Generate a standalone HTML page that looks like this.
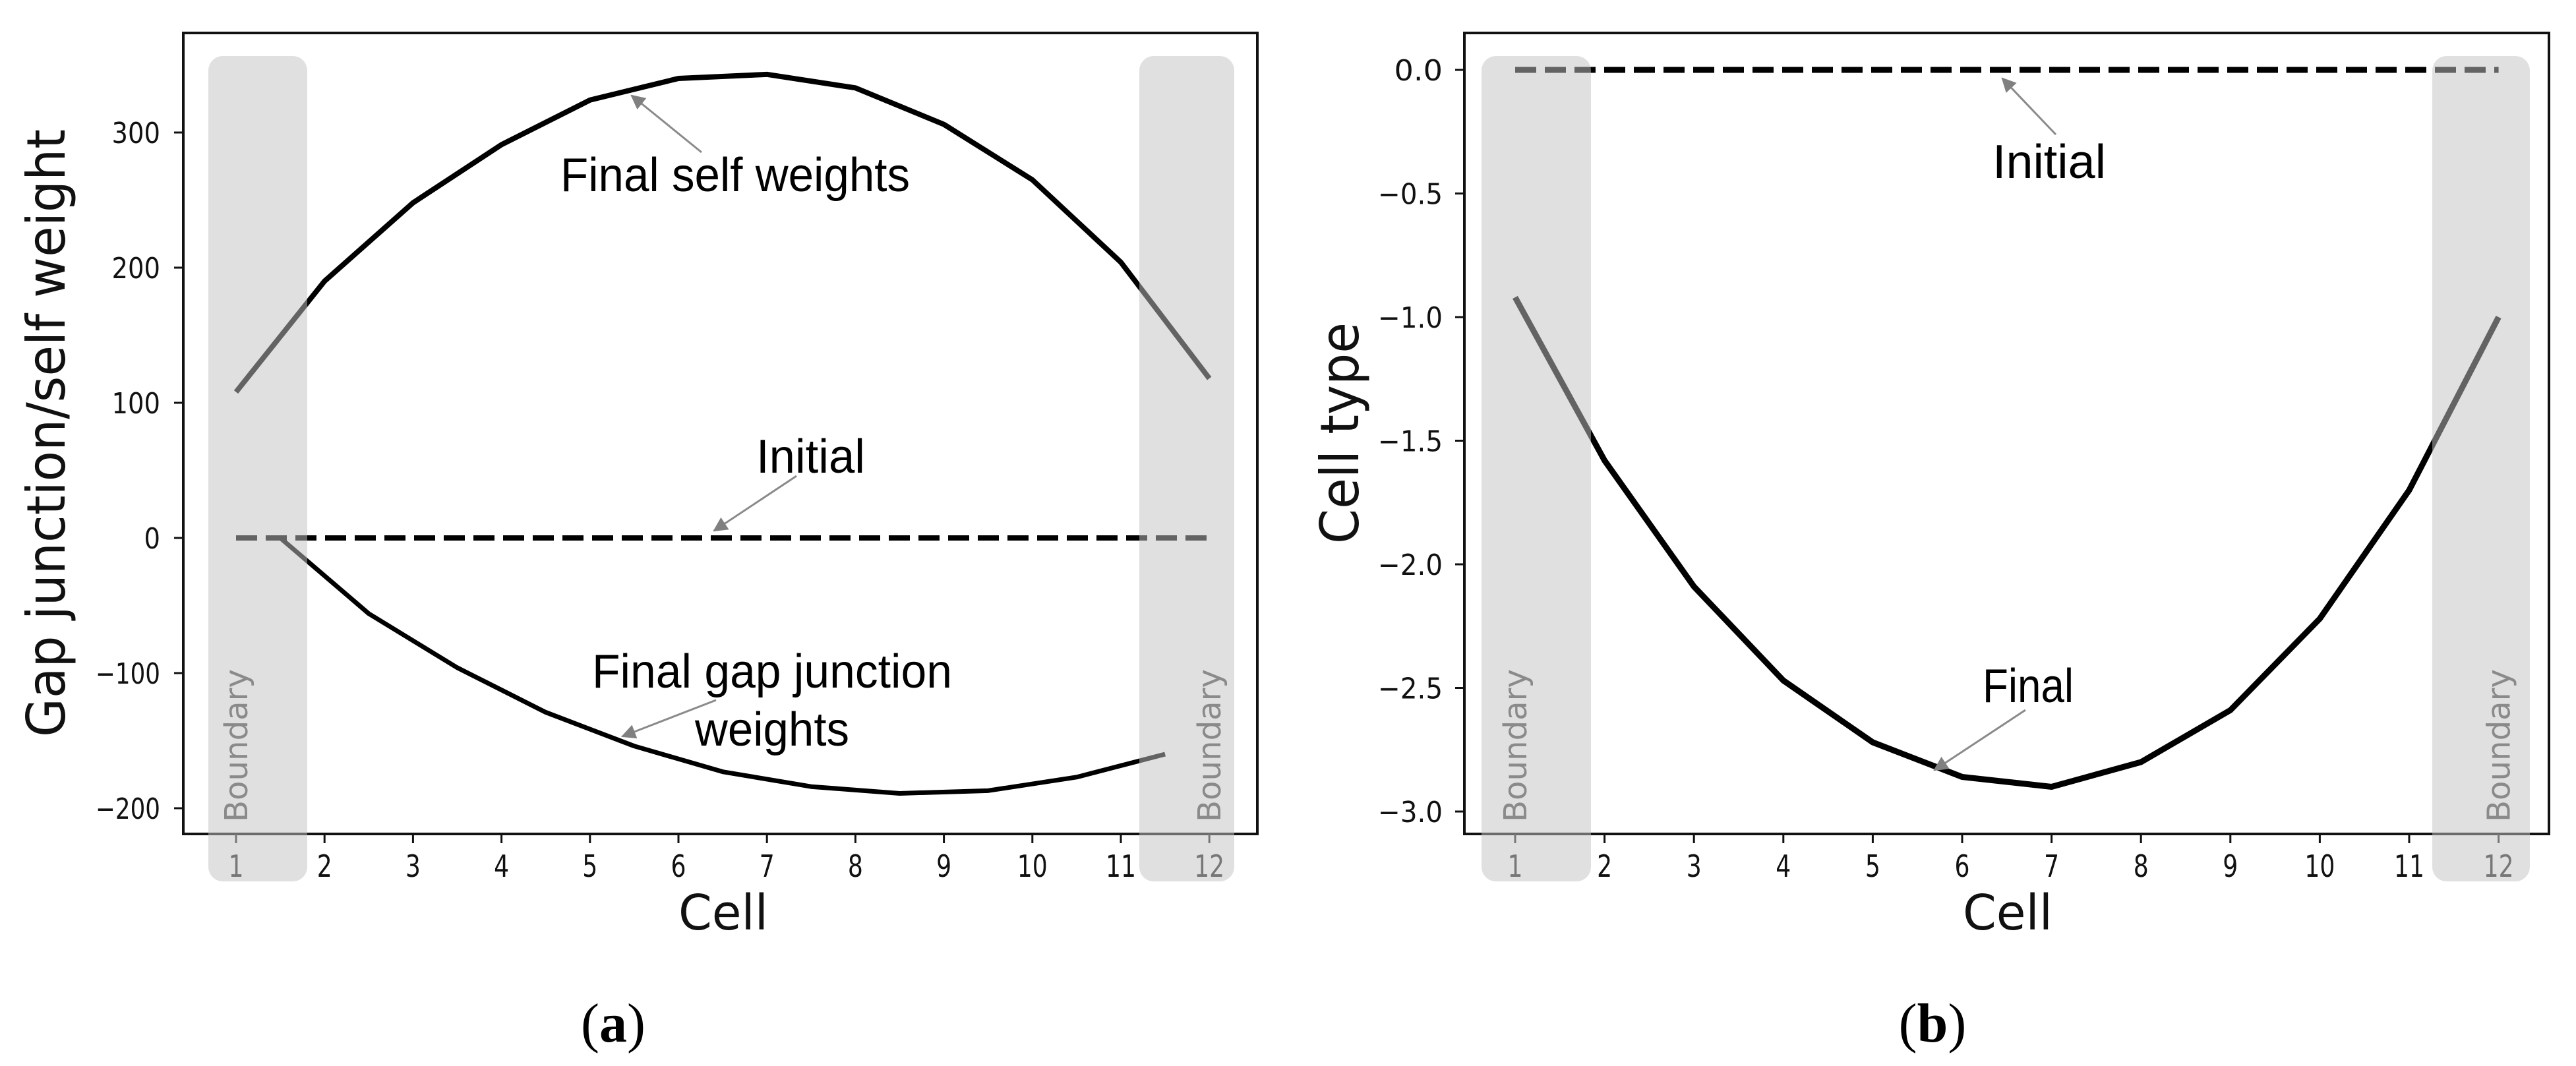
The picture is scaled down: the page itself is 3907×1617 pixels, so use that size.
<!DOCTYPE html>
<html><head><meta charset="utf-8"><style>
html,body{margin:0;padding:0;background:#fff;}
svg{display:block;}
text{font-family:"DejaVu Sans","Liberation Sans",sans-serif;}
.ann{font-family:"Liberation Sans",sans-serif;}
</style></head><body>
<svg id="fig" width="3907" height="1617" viewBox="0 0 3907 1617" xmlns="http://www.w3.org/2000/svg">
<defs>
<marker id="ah" viewBox="0 0 10 10" refX="9" refY="5" markerWidth="26" markerHeight="22" markerUnits="userSpaceOnUse" orient="auto">
<path d="M0,0 L10,5 L0,10 z" fill="#808080"/></marker>
</defs>
<g id="pa"></g>
<g id="pb"></g>
</svg>
<script>
// ---- Panel A data ----
const cellsA = [1,2,3,4,5,6,7,8,9,10,11,12];
const selfWeights = [108,190,248,291,324,340,343,333,306,265,204,118];
const gapCells = [1.5,2.5,3.5,4.5,5.5,6.5,7.5,8.5,9.5,10.5,11.5];
const gapWeights = [0,-56,-96,-129,-154,-173,-184,-189,-187,-177,-160];
const initialA = [0,0];
const yTicksA = [-200,-100,0,100,200,300];
const xTicks = [1,2,3,4,5,6,7,8,9,10,11,12];
// ---- Panel B data ----
const cellsB = [1,2,3,4,5,6,7,8,9,10,11,12];
const cellTypeFinal = [-0.92,-1.58,-2.09,-2.47,-2.72,-2.86,-2.90,-2.80,-2.59,-2.22,-1.70,-1.00];
const initialB = [0,0];
const yTicksB = [0.0,-0.5,-1.0,-1.5,-2.0,-2.5,-3.0];
const yTickLabelsB = ["0.0","\u22120.5","\u22121.0","\u22121.5","\u22122.0","\u22122.5","\u22123.0"];

const NS="http://www.w3.org/2000/svg";
function mk(parent,tag,attrs,txt){const e=document.createElementNS(NS,tag);for(const k in attrs)e.setAttribute(k,attrs[k]);if(txt!==undefined)e.textContent=txt;parent.appendChild(e);return e;}

function panel(g,cfg){
  const {L,R,T,B,x1,dx,y0,ky}=cfg;
  const X=v=>x1+(v-1)*dx, Y=v=>y0-v*ky;
  const fr=mk(g,'rect',{x:L,y:T,width:R-L,height:B-T,fill:'none',stroke:'#111','stroke-width':4});
  
  
  cfg.series.forEach(s=>{
    const pts=s.x.map((xv,i)=>X(xv)+','+Y(s.y[i])).join(' ');
    const p=mk(g,'polyline',{points:pts,fill:'none',stroke:'#000','stroke-width':s.w||8,'stroke-linejoin':'round','stroke-dasharray':s.dash||'none'});
    
    
  });
  cfg.rects.forEach((r,i)=>{
    const rc=mk(g,'rect',{x:r[0],y:85,width:r[1]-r[0],height:1337-85,rx:22,fill:'rgb(195,195,195)','fill-opacity':0.51});
    
    
    const cx=X(i?12:1);
    const t=mk(g,'text',{x:0,y:0,transform:`translate(${cx+17},1247) rotate(-90)`,'font-size':48,fill:'#8a8a8a',textLength:232,lengthAdjust:'spacingAndGlyphs'},'Boundary');
    
    
  });
  xTicks.forEach(v=>{
    const inR = (v===1||v===12);
    mk(g,'line',{x1:X(v),x2:X(v),y1:B,y2:B+14,stroke:inR?'#777':'#111','stroke-width':3});
    const t=mk(g,'text',{x:X(v),y:1330,'text-anchor':'middle','font-size':46,fill:inR?'#777':'#111',textLength:v>9?46:23,lengthAdjust:'spacingAndGlyphs'},String(v));
    
    
  });
  cfg.yt.forEach((v,i)=>{
    mk(g,'line',{x1:L-14,x2:L,y1:Y(v),y2:Y(v),stroke:'#111','stroke-width':3});
    const lab=cfg.ytl[i];
    const t=mk(g,'text',{x:cfg.tr,y:Y(v)+16,'text-anchor':'end','font-size':44,fill:'#111',textLength:lab.length*24.5,lengthAdjust:'spacingAndGlyphs'},lab);
    
    
  });
  const xl=mk(g,'text',{x:cfg.xlc,y:1410,'text-anchor':'middle','font-size':74,fill:'#111',textLength:136,lengthAdjust:'spacingAndGlyphs'},'Cell');
  
  
  const yl=mk(g,'text',{x:0,y:0,transform:`translate(${cfg.ylx},${cfg.ylc}) rotate(-90)`,'text-anchor':'middle','font-size':80,fill:'#111',textLength:cfg.yll,lengthAdjust:'spacingAndGlyphs'},cfg.ylab);
  
  
  cfg.ann.forEach(a=>{
    const t=mk(g,'text',{x:a.x,y:a.y,'font-size':72,fill:'#000',textLength:a.len,lengthAdjust:'spacingAndGlyphs',class:'ann'},a.t);
    
    
    if(a.arrow){
      const l=mk(g,'line',{x1:a.arrow[0],y1:a.arrow[1],x2:a.arrow[2],y2:a.arrow[3],stroke:'#8a8a8a','stroke-width':3,'marker-end':'url(#ah)'});
      
      
    }
  });
  const pl=mk(g,'text',{x:cfg.plx,y:1580,'text-anchor':'middle','font-size':84,fill:'#000',style:'font-family:"Liberation Serif",serif'},'');
  
  
  mk(pl,'tspan',{},'(');mk(pl,'tspan',{'font-weight':'bold'},cfg.pl);mk(pl,'tspan',{},')');
}

panel(document.getElementById('pa'),{
  L:278,R:1907,T:50,B:1265,x1:358,dx:134.2,y0:816,ky:2.05,tr:243,
  series:[
    {name:'initial-line',x:[1,12],y:initialA,dash:'32 13',w:8},
    {name:'final-self-weights-line',x:cellsA,y:selfWeights,w:8},
    {name:'final-gap-junction-line',x:gapCells,y:gapWeights,w:7}
  ],
  rects:[[316,466],[1728,1872]],
  yt:yTicksA, ytl:yTicksA.map(v=>v<0?'\u2212'+Math.abs(v):String(v)),
  xlc:1097, ylx:98, ylc:657, yll:922, ylab:'Gap junction/self weight',
  ann:[
    {t:'Final self weights',x:850,y:290,len:530,arrow:[1064,231,958,145]},
    {t:'Initial',x:1147,y:717,len:165,arrow:[1208,722,1083,805]},
    {t:'Final gap junction',x:898,y:1043,len:546,arrow:[1086,1062,944,1117]},
    {t:'weights',x:1054,y:1131,len:234}
  ],
  plx:930, pl:'a'
});
panel(document.getElementById('pb'),{
  L:2221,R:3866,T:50,B:1265,x1:2298,dx:135.6,y0:106,ky:375,tr:2188,
  series:[
    {name:'initial-line',x:[1,12],y:initialB,dash:'32 13',w:9},
    {name:'final-cell-type-line',x:cellsB,y:cellTypeFinal,w:9}
  ],
  rects:[[2247,2413],[3689,3837]],
  yt:yTicksB, ytl:yTickLabelsB,
  xlc:3045, ylx:2060, ylc:657, yll:336, ylab:'Cell type',
  ann:[
    {t:'Initial',x:3022,y:270,len:172,arrow:[3118,204,3037,119]},
    {t:'Final',x:3007,y:1065,len:138,arrow:[3072,1077,2934,1168]}
  ],
  plx:2931, pl:'b'
});
</script>
</body></html>
